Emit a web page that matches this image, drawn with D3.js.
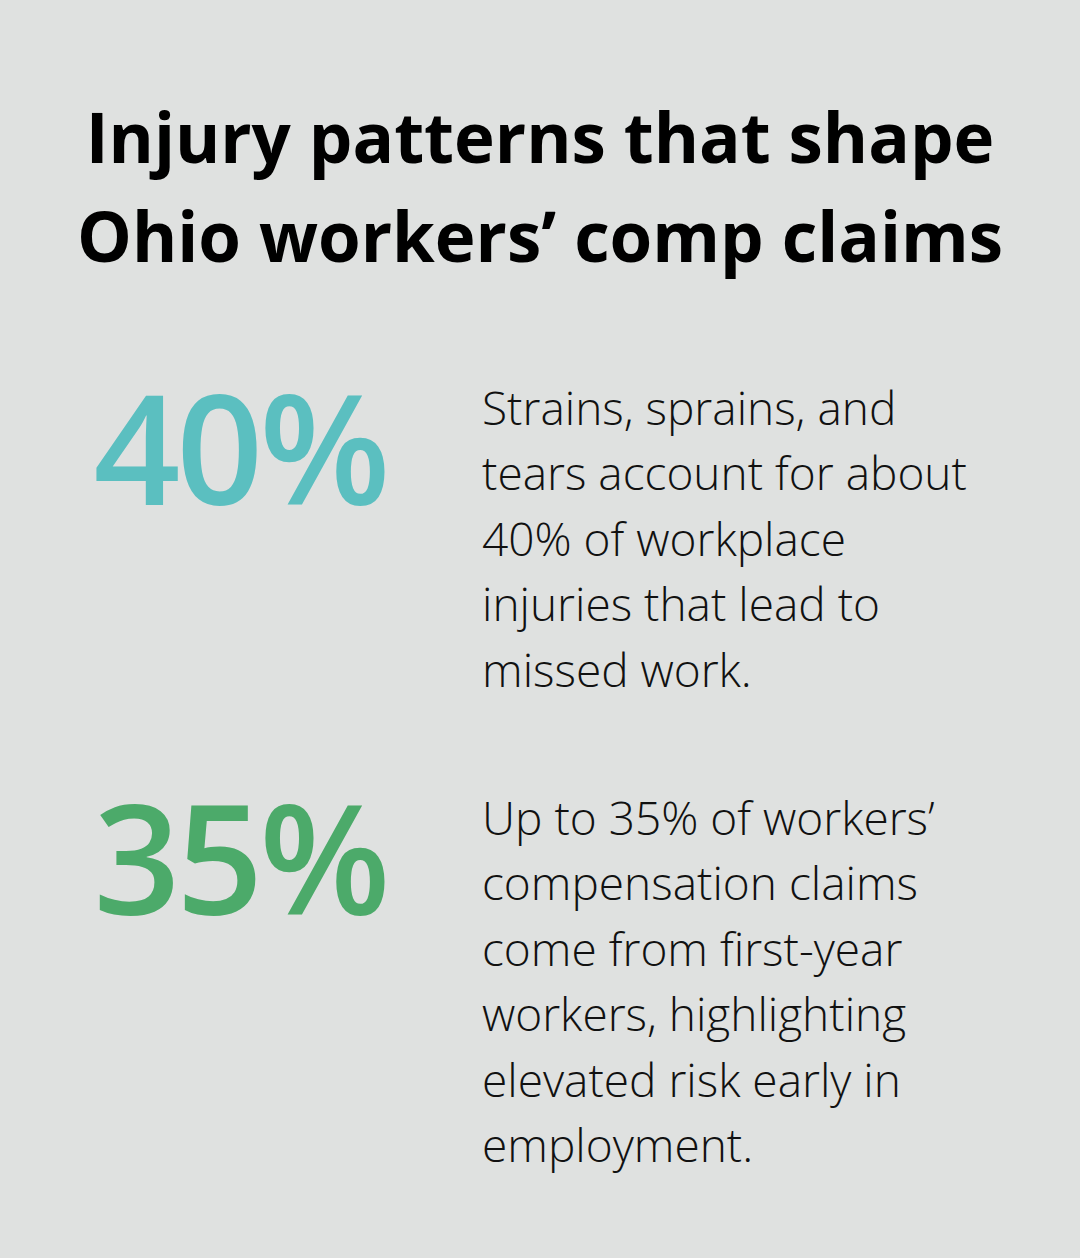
<!DOCTYPE html>
<html><head><meta charset="utf-8">
<script src="https://cdn.jsdelivr.net/npm/d3@7"></script>
<style>body{margin:0;background:#dfe1e0}</style></head>
<body><script>
const titleLines = ["Injury patterns that shape", "Ohio workers’ comp claims"];
const statValues = [40, 35];
const statColors = ["#5bbfc0", "#4caa6a"];
const statTexts = [
  ["Strains, sprains, and", "tears account for about", "40% of workplace", "injuries that lead to", "missed work."],
  ["Up to 35% of workers’", "compensation claims", "come from first-year", "workers, highlighting", "elevated risk early in", "employment."]
];
const W = 1080, H = 1258;
const svg = d3.select("body").append("svg").attr("width", W).attr("height", H);
svg.append("rect").attr("width", W).attr("height", H).attr("fill", "#dfe1e0");
svg.selectAll("text.title").data(titleLines).join("text")
  .attr("x", W/2).attr("y", (d,i) => 163 + i*99)
  .attr("text-anchor", "middle").attr("font-family", "Open Sans")
  .attr("font-weight", 700).attr("font-size", 69).attr("fill", "#000").text(d => d);
const blockY = [505, 915];
const textY = [425, 835];
statValues.forEach((v, k) => {
  svg.append("text").attr("x", 240).attr("y", blockY[k]).attr("text-anchor", "middle")
    .attr("font-family", "Open Sans").attr("font-weight", 600).attr("font-size", 152)
    .attr("letter-spacing", -4)
    .attr("fill", statColors[k]).text(v + "%");
  svg.append("g").selectAll("text").data(statTexts[k]).join("text")
    .attr("x", 482).attr("y", (d,i) => textY[k] + i*65.4)
    .attr("font-family", "Open Sans").attr("font-weight", 300).attr("font-size", 46)
    .attr("fill", "#111").text(d => d);
});
</script></body></html>
